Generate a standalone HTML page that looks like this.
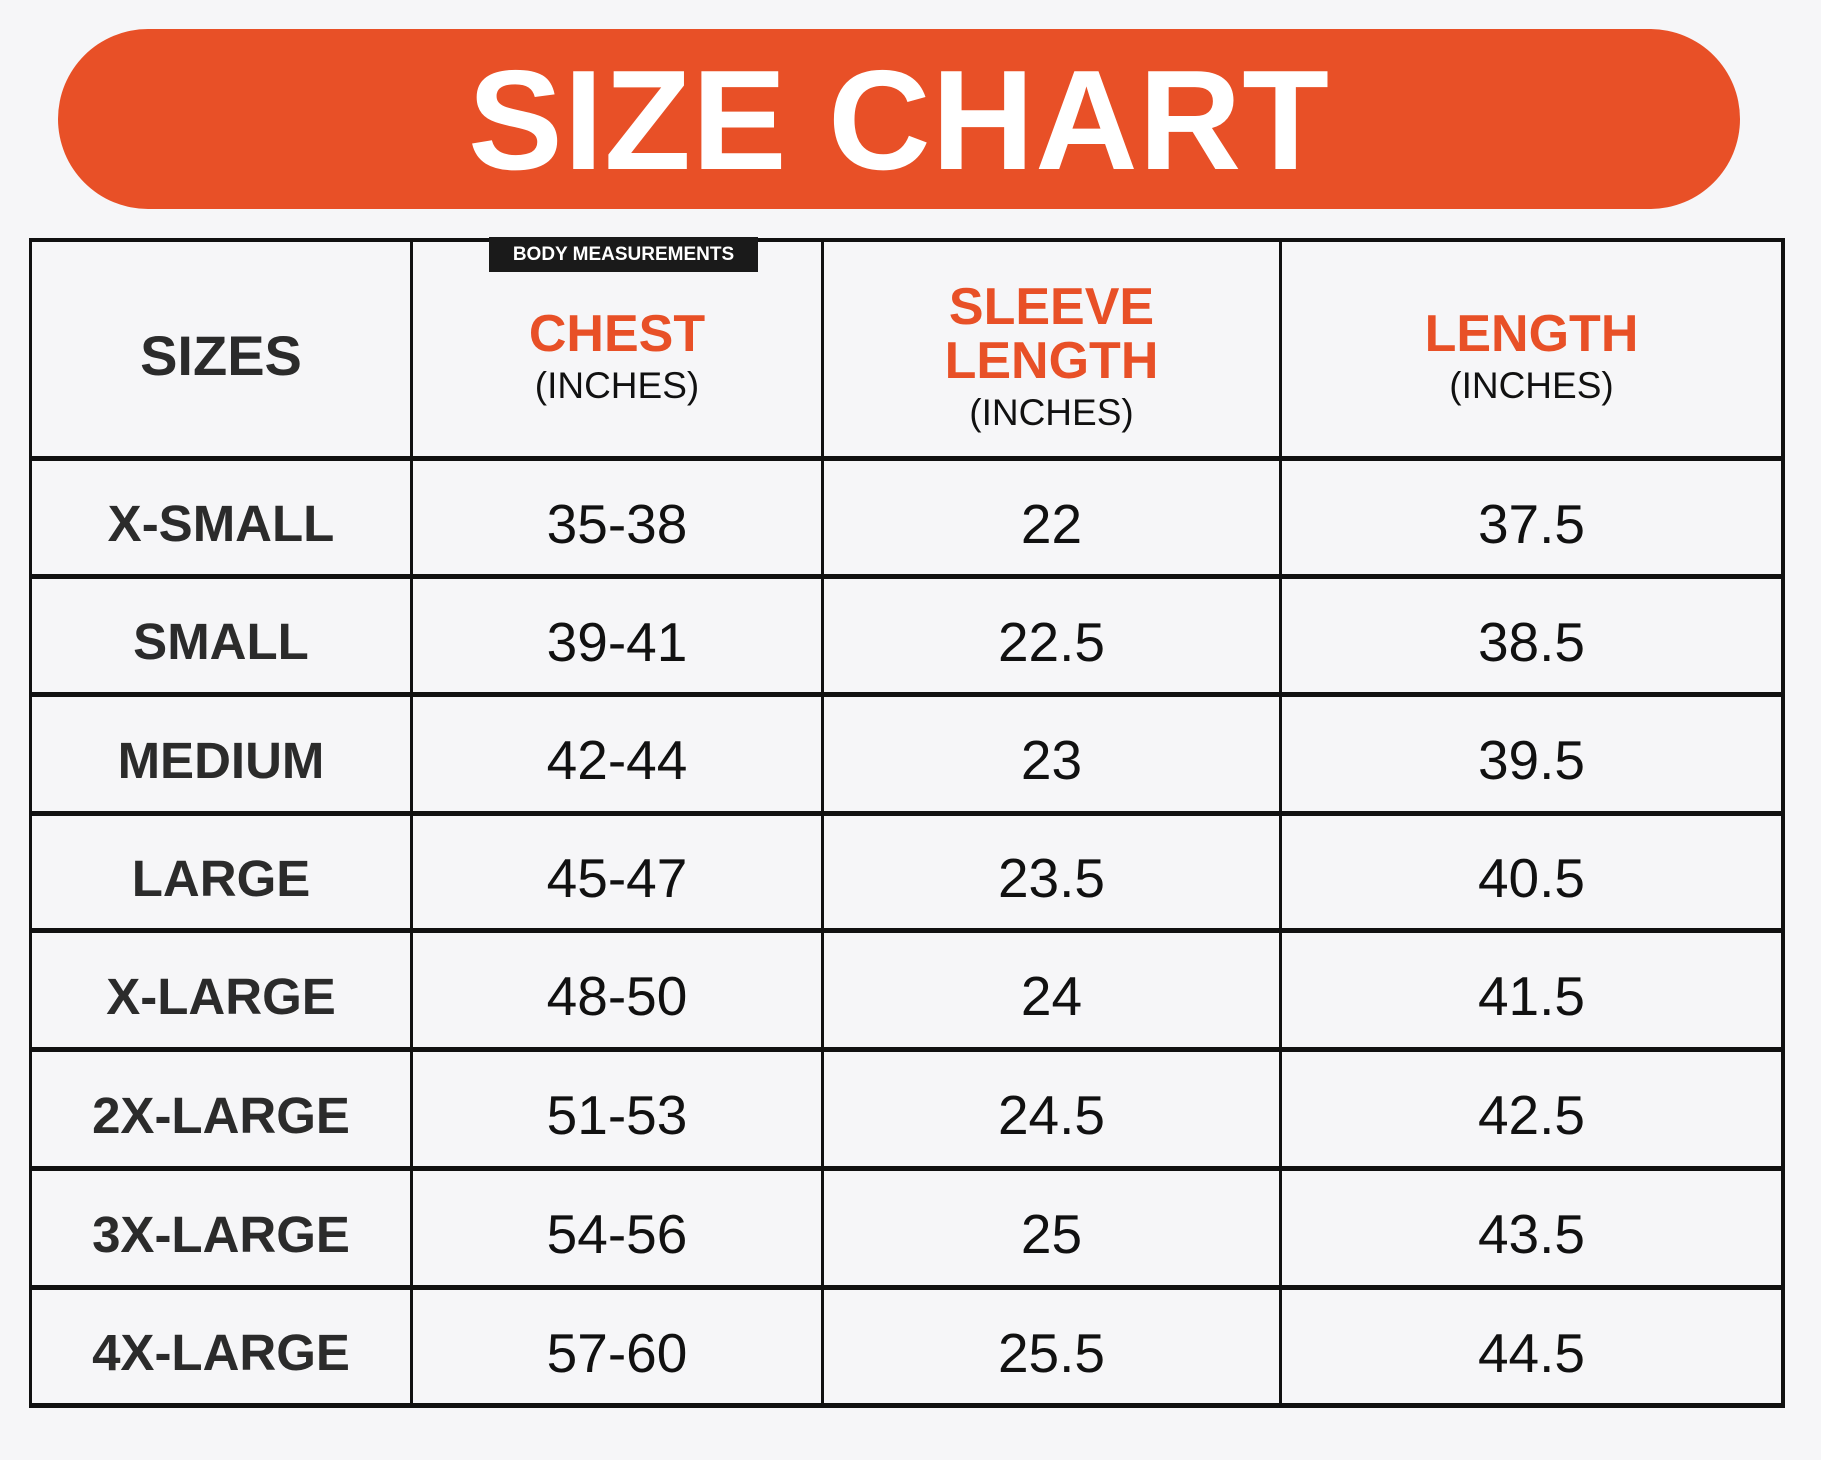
<!DOCTYPE html>
<html><head><meta charset="utf-8"><style>
*{margin:0;padding:0;box-sizing:border-box}
body{width:1821px;height:1460px;background:#f6f6f8;font-family:"Liberation Sans",sans-serif;position:relative;overflow:hidden}
.banner{position:absolute;left:58px;top:29px;width:1682px;height:180px;background:#e85027;border-radius:90px;color:#fff;font-weight:bold;font-size:142px;text-align:center;line-height:184px;letter-spacing:1px}
.h{position:absolute;background:#111}
.cell{position:absolute;display:flex;flex-direction:column;align-items:center;justify-content:center;text-align:center;padding-top:12px}
.lab{font-weight:bold;font-size:51px;color:#2b2b2b}
.val{font-size:55px;color:#111}
.or{color:#e85027;font-weight:bold;font-size:52px;line-height:54px}
.in{font-size:37px;color:#111;line-height:50px}
.badge{position:absolute;left:489px;top:237px;width:269px;height:35px;background:#1a1a1a;color:#fff;font-weight:bold;font-size:19px;line-height:35px;text-align:center}
</style></head><body>
<div class="banner">SIZE CHART</div>
<div class="h" style="left:30px;top:238px;width:1755px;height:4px"></div>
<div class="h" style="left:30px;top:456px;width:1755px;height:5px"></div>
<div class="h" style="left:30px;top:574px;width:1755px;height:5px"></div>
<div class="h" style="left:30px;top:692px;width:1755px;height:5px"></div>
<div class="h" style="left:30px;top:811px;width:1755px;height:5px"></div>
<div class="h" style="left:30px;top:928px;width:1755px;height:5px"></div>
<div class="h" style="left:30px;top:1047px;width:1755px;height:5px"></div>
<div class="h" style="left:30px;top:1166px;width:1755px;height:5px"></div>
<div class="h" style="left:30px;top:1285px;width:1755px;height:5px"></div>
<div class="h" style="left:30px;top:1403px;width:1755px;height:5px"></div>
<div class="h" style="left:29px;top:238px;width:3px;height:1170px"></div>
<div class="h" style="left:410px;top:238px;width:3px;height:1170px"></div>
<div class="h" style="left:821px;top:238px;width:3px;height:1170px"></div>
<div class="h" style="left:1279px;top:238px;width:3px;height:1170px"></div>
<div class="h" style="left:1781px;top:238px;width:4px;height:1170px"></div>
<div class="badge">BODY MEASUREMENTS</div>
<div class="cell lab" style="left:32px;top:242px;width:378px;height:214px;font-size:56px">SIZES</div>
<div class="cell" style="left:413px;top:250px;width:408px;height:206px"><div class="or">CHEST</div><div class="in">(INCHES)</div></div>
<div class="cell" style="left:824px;top:250px;width:455px;height:206px"><div class="or">SLEEVE</div><div class="or">LENGTH</div><div class="in">(INCHES)</div></div>
<div class="cell" style="left:1282px;top:250px;width:499px;height:206px"><div class="or">LENGTH</div><div class="in">(INCHES)</div></div>
<div style="position:absolute;left:0;top:461px">
<div class="cell lab" style="left:32px;top:0;width:378px;height:113px">X-SMALL</div>
<div class="cell val" style="left:413px;top:0;width:408px;height:113px">35-38</div>
<div class="cell val" style="left:824px;top:0;width:455px;height:113px">22</div>
<div class="cell val" style="left:1282px;top:0;width:499px;height:113px">37.5</div>
</div>
<div style="position:absolute;left:0;top:579px">
<div class="cell lab" style="left:32px;top:0;width:378px;height:113px">SMALL</div>
<div class="cell val" style="left:413px;top:0;width:408px;height:113px">39-41</div>
<div class="cell val" style="left:824px;top:0;width:455px;height:113px">22.5</div>
<div class="cell val" style="left:1282px;top:0;width:499px;height:113px">38.5</div>
</div>
<div style="position:absolute;left:0;top:697px">
<div class="cell lab" style="left:32px;top:0;width:378px;height:114px">MEDIUM</div>
<div class="cell val" style="left:413px;top:0;width:408px;height:114px">42-44</div>
<div class="cell val" style="left:824px;top:0;width:455px;height:114px">23</div>
<div class="cell val" style="left:1282px;top:0;width:499px;height:114px">39.5</div>
</div>
<div style="position:absolute;left:0;top:816px">
<div class="cell lab" style="left:32px;top:0;width:378px;height:112px">LARGE</div>
<div class="cell val" style="left:413px;top:0;width:408px;height:112px">45-47</div>
<div class="cell val" style="left:824px;top:0;width:455px;height:112px">23.5</div>
<div class="cell val" style="left:1282px;top:0;width:499px;height:112px">40.5</div>
</div>
<div style="position:absolute;left:0;top:933px">
<div class="cell lab" style="left:32px;top:0;width:378px;height:114px">X-LARGE</div>
<div class="cell val" style="left:413px;top:0;width:408px;height:114px">48-50</div>
<div class="cell val" style="left:824px;top:0;width:455px;height:114px">24</div>
<div class="cell val" style="left:1282px;top:0;width:499px;height:114px">41.5</div>
</div>
<div style="position:absolute;left:0;top:1052px">
<div class="cell lab" style="left:32px;top:0;width:378px;height:114px">2X-LARGE</div>
<div class="cell val" style="left:413px;top:0;width:408px;height:114px">51-53</div>
<div class="cell val" style="left:824px;top:0;width:455px;height:114px">24.5</div>
<div class="cell val" style="left:1282px;top:0;width:499px;height:114px">42.5</div>
</div>
<div style="position:absolute;left:0;top:1171px">
<div class="cell lab" style="left:32px;top:0;width:378px;height:114px">3X-LARGE</div>
<div class="cell val" style="left:413px;top:0;width:408px;height:114px">54-56</div>
<div class="cell val" style="left:824px;top:0;width:455px;height:114px">25</div>
<div class="cell val" style="left:1282px;top:0;width:499px;height:114px">43.5</div>
</div>
<div style="position:absolute;left:0;top:1290px">
<div class="cell lab" style="left:32px;top:0;width:378px;height:113px">4X-LARGE</div>
<div class="cell val" style="left:413px;top:0;width:408px;height:113px">57-60</div>
<div class="cell val" style="left:824px;top:0;width:455px;height:113px">25.5</div>
<div class="cell val" style="left:1282px;top:0;width:499px;height:113px">44.5</div>
</div>
</body></html>
